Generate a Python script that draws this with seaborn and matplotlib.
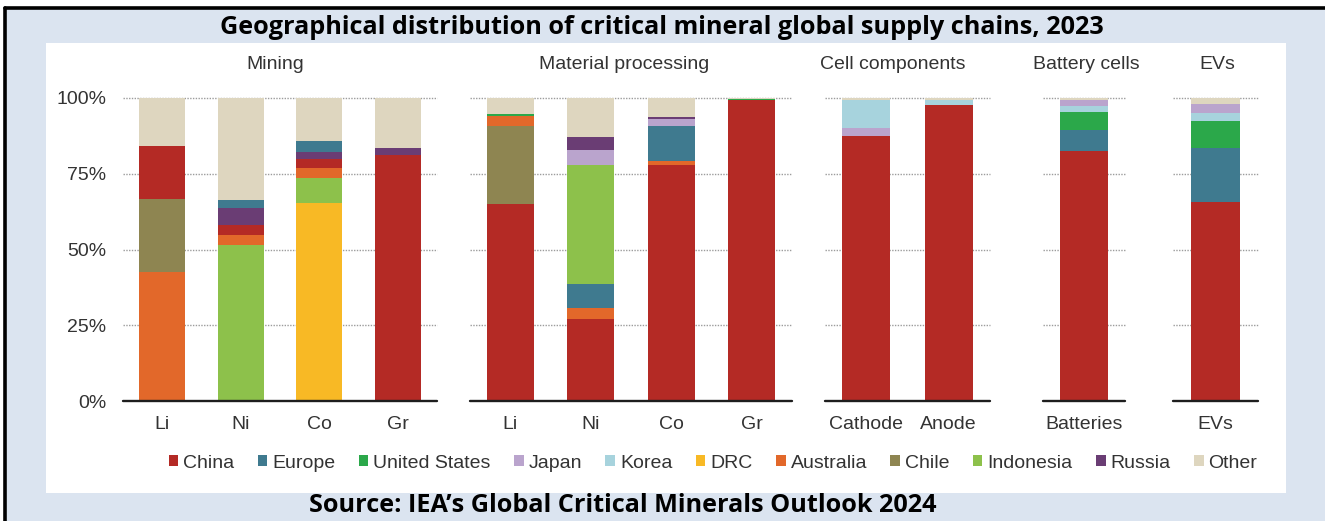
import matplotlib
matplotlib.use("Agg")
import matplotlib.pyplot as plt
from matplotlib.patches import Rectangle, Patch
from matplotlib.lines import Line2D
import seaborn as sns

# ---------------------------------------------------------------- data
REGIONS = ["China", "Europe", "United States", "Japan", "Korea", "DRC",
           "Australia", "Chile", "Indonesia", "Russia", "Other"]
REGION_COLORS = ["#b42a25", "#3f7a8f", "#2ba84a", "#baa4cd", "#a7d3dd", "#f8b925",
                 "#e2682a", "#8e8551", "#8dc14b", "#6a3d74", "#ded6bf"]

# Mining (share of global supply, %)
MINING_CATS = ["Li", "Ni", "Co", "Gr"]
MINING_ORDER = ["DRC", "Indonesia", "Australia", "Chile", "China", "Russia", "Europe", "Other"]
MINING_DRC = [0.0, 0.0, 65.2, 0.0]
MINING_INDONESIA = [0.0, 51.5, 8.3, 0.0]
MINING_AUSTRALIA = [42.7, 3.3, 3.3, 0.0]
MINING_CHILE = [24.0, 0.0, 0.0, 0.0]
MINING_CHINA = [17.6, 3.3, 3.0, 81.2]
MINING_RUSSIA = [0.0, 5.6, 2.5, 2.4]
MINING_EUROPE = [0.0, 2.6, 3.6, 0.0]
MINING_OTHER = [15.7, 33.7, 14.1, 16.4]

# Material processing
PROC_CATS = ["Li", "Ni", "Co", "Gr"]
PROC_ORDER = ["China", "Chile", "Australia", "Europe", "Indonesia", "Japan",
              "Russia", "United States", "Other"]
PROC_CHINA = [64.9, 27.0, 77.9, 99.3]
PROC_CHILE = [25.9, 0.0, 0.0, 0.0]
PROC_AUSTRALIA = [3.3, 3.6, 1.4, 0.0]
PROC_EUROPE = [0.0, 7.9, 11.5, 0.0]
PROC_INDONESIA = [0.0, 39.4, 0.0, 0.0]
PROC_JAPAN = [0.0, 4.9, 2.3, 0.0]
PROC_RUSSIA = [0.0, 4.4, 0.5, 0.0]
PROC_US = [0.6, 0.0, 0.0, 0.5]
PROC_OTHER = [5.3, 12.8, 6.4, 0.2]

# Cell components
CELL_CATS = ["Cathode", "Anode"]
CELL_ORDER = ["China", "Japan", "Korea", "Other"]
CELL_CHINA = [87.5, 97.7]
CELL_JAPAN = [2.5, 0.0]
CELL_KOREA = [9.3, 1.8]
CELL_OTHER = [0.7, 0.5]

# Battery cells
BATT_CATS = ["Batteries"]
BATT_ORDER = ["China", "Europe", "United States", "Korea", "Japan", "Other"]
BATT_CHINA = [82.5]
BATT_EUROPE = [6.9]
BATT_US = [6.1]
BATT_KOREA = [2.0]
BATT_JAPAN = [1.9]
BATT_OTHER = [0.6]

# EVs
EV_CATS = ["EVs"]
EV_ORDER = ["China", "Europe", "United States", "Korea", "Japan", "Other"]
EV_CHINA = [65.6]
EV_EUROPE = [17.8]
EV_US = [9.0]
EV_KOREA = [2.7]
EV_JAPAN = [2.9]
EV_OTHER = [2.0]

Y_TICKS = [0, 25, 50, 75, 100]
Y_TICK_LABELS = ["0%", "25%", "50%", "75%", "100%"]

TITLE = "Geographical distribution of critical mineral global supply chains, 2023"
SOURCE = "Source: IEA\u2019s Global Critical Minerals Outlook 2024"

# ---------------------------------------------------------------- panels
# (title, categories, stacking order bottom->top, series, x-extent in px, title x)
panels = [
    ("Mining", MINING_CATS, MINING_ORDER,
     [MINING_DRC, MINING_INDONESIA, MINING_AUSTRALIA, MINING_CHILE,
      MINING_CHINA, MINING_RUSSIA, MINING_EUROPE, MINING_OTHER],
     (123, 437), 0.486),
    ("Material processing", PROC_CATS, PROC_ORDER,
     [PROC_CHINA, PROC_CHILE, PROC_AUSTRALIA, PROC_EUROPE, PROC_INDONESIA,
      PROC_JAPAN, PROC_RUSSIA, PROC_US, PROC_OTHER],
     (470, 792), 0.478),
    ("Cell components", CELL_CATS, CELL_ORDER,
     [CELL_CHINA, CELL_JAPAN, CELL_KOREA, CELL_OTHER],
     (825, 990), 0.41),
    ("Battery cells", BATT_CATS, BATT_ORDER,
     [BATT_CHINA, BATT_EUROPE, BATT_US, BATT_KOREA, BATT_JAPAN, BATT_OTHER],
     (1043, 1125), 0.53),
    ("EVs", EV_CATS, EV_ORDER,
     [EV_CHINA, EV_EUROPE, EV_US, EV_KOREA, EV_JAPAN, EV_OTHER],
     (1173, 1258), 0.52),
]

W, H, DPI = 1325, 521, 100
BG_BLUE = "#dbe4f0"
TEXT = "#333333"

sns.set_style("white")
plt.rcParams["font.family"] = ["Liberation Sans", "DejaVu Sans"]

fig = plt.figure(figsize=(W / DPI, H / DPI), dpi=DPI, facecolor="white")
color_of = dict(zip(REGIONS, REGION_COLORS))


def fx(px):
    return px / W


def fy(py):
    return 1 - py / H


# framed light-blue backdrop and white chart card
fig.patches.append(Rectangle((fx(5), 0), 1 - fx(5), fy(8), transform=fig.transFigure,
                             facecolor=BG_BLUE, edgecolor="none", zorder=-10))
fig.patches.append(Rectangle((fx(46), fy(493)), fx(1286 - 46), (493 - 43) / H,
                             transform=fig.transFigure, facecolor="white",
                             edgecolor="none", zorder=-9))
fig.lines.append(Line2D([fx(4.5), 1], [fy(8), fy(8)], transform=fig.transFigure,
                        color="black", lw=2.6, zorder=-8))
fig.lines.append(Line2D([fx(4.5), fx(4.5)], [0, fy(8)], transform=fig.transFigure,
                        color="black", lw=2.6, zorder=-8))

Y0, Y100 = 401, 98
for i, (name, cats, order, series, (x0, x1), title_x) in enumerate(panels):
    ax = fig.add_axes([fx(x0), fy(Y0), fx(x1 - x0), (Y0 - Y100) / H])
    ax.set_facecolor("none")
    # cumulative tops; draw from the top segment down so lower ones overlay
    tops = []
    run = [0.0] * len(cats)
    for vals in series:
        run = [a + b for a, b in zip(run, vals)]
        tops.append(run)
    for region, top in reversed(list(zip(order, tops))):
        sns.barplot(x=cats, y=top, order=cats, color=color_of[region], width=0.58,
                    saturation=1, errorbar=None, linewidth=0, ax=ax, zorder=2)
    n = len(cats)
    ax.set_xlim(-0.5, n - 0.5)
    ax.set_ylim(0, 100)
    for yv in Y_TICKS[1:]:
        ax.axhline(yv, color="#9c9c9c", lw=1.0, ls=(0, (1, 1)), zorder=1, clip_on=False)
    ax.axhline(0, color="#1e1e1e", lw=1.7, zorder=3, clip_on=False)
    for s in ax.spines.values():
        s.set_visible(False)
    ax.set_xlabel("")
    ax.set_ylabel("")
    ax.tick_params(axis="both", length=0, labelsize=14, colors=TEXT)
    ax.tick_params(axis="x", pad=11)
    ax.set_yticks(Y_TICKS)
    if i == 0:
        ax.set_yticklabels(Y_TICK_LABELS)
        ax.tick_params(axis="y", pad=12)
    else:
        ax.set_yticklabels([])
    ax.set_title(name, fontsize=14, color=TEXT, pad=21, x=title_x)

handles = [Patch(facecolor=c, edgecolor="none") for c in REGION_COLORS]
fig.legend(handles, REGIONS, loc="center", bbox_to_anchor=(fx(713), fy(463)),
           ncol=len(REGIONS), frameon=False, fontsize=14, handlelength=0.5,
           handleheight=0.5, handletextpad=0.25, columnspacing=1.2,
           labelcolor=TEXT)

fig.text(fx(662), fy(27), TITLE, ha="center", va="center", fontsize=18.2,
         fontweight="bold", family=["Open Sans", "DejaVu Sans"], color="black")
fig.text(fx(623), fy(506), SOURCE, ha="center", va="center", fontsize=18.2,
         fontweight="bold", family=["Open Sans", "DejaVu Sans"], color="black")

fig.savefig("out.png", dpi=DPI, facecolor="white")
